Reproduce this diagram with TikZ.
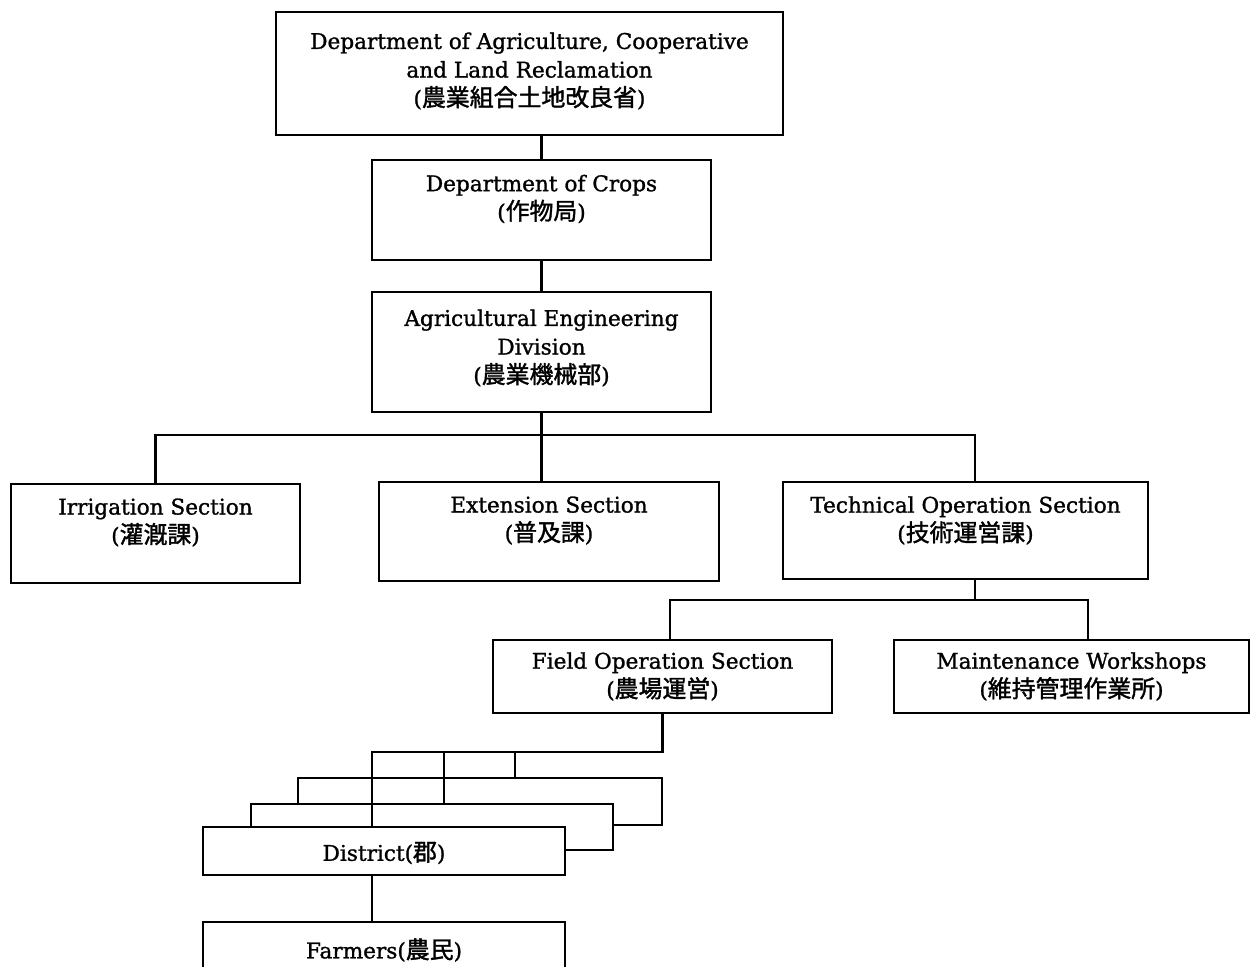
\documentclass[tikz,border=0pt]{standalone}
\usepackage{fontspec}
\setmainfont{DejaVu Serif}[FakeBold=1.2]
\newfontfamily\jpfont{Noto Sans CJK JP}[FakeBold=1.5]
\newcommand{\jp}[1]{{\fontsize{13.6}{16.3}\selectfont\jpfont #1}}
\usetikzlibrary{fit}

\begin{document}
\begin{tikzpicture}[x=0.02cm, y=-0.02cm, line width=1.6pt,
        box/.style={draw, fill=white, inner sep=0pt, fit={#1}},
        lbl/.style={align=center, inner sep=0pt, font=\fontsize{12.3}{16.3}\selectfont}]
        \useasboundingbox (0,0) rectangle (1252,967);
        \clip (0,0) rectangle (1252,967);

        % boxes, top to bottom
        \node[box={(276,12) (783,135)}] (top) {};
        \node[box={(372,160) (711,260)}] (crops) {};
        \node[box={(372,292) (711,412)}] (aed) {};
        \node[box={(11,484) (300,583)}] (irr) {};
        \node[box={(379,482) (719,581)}] (ext) {};
        \node[box={(783,482) (1148,579)}] (tech) {};
        \node[box={(493,640) (832,713)}] (field) {};
        \node[box={(894,640) (1249,713)}] (maint) {};
        \node[box={(298,778) (662,825)}] (back) {};
        \node[box={(251,804) (613,850)}] (mid) {};
        \node[box={(203,827) (565,875)}] (dist) {};
        \node[box={(203,922) (565,990)}] (farm) {};

        % texts
        \node[lbl, yshift=.05cm] (topt) at (top) {Department of Agriculture, Cooperative\\and Land Reclamation\\(\jp{農業組合土地改良省})};
        \node[lbl, yshift=.22cm] (cropst) at (crops) {Department of Crops\\(\jp{作物局})};
        \node[lbl, yshift=.08cm] (aedt) at (aed) {Agricultural Engineering\\Division\\(\jp{農業機械部})};
        \node[lbl, yshift=.22cm] (irrt) at (irr) {Irrigation Section\\(\jp{灌漑課})};
        \node[lbl, yshift=.22cm] (extt) at (ext) {Extension Section\\(\jp{普及課})};
        \node[lbl, yshift=.2cm] (techt) at (tech) {Technical Operation Section\\(\jp{技術運営課})};
        \node[lbl] (fieldt) at (field) {Field Operation Section\\(\jp{農場運営})};
        \node[lbl] (maintt) at (maint) {Maintenance Workshops\\(\jp{維持管理作業所})};
        \node[lbl] (distt) at (384,853) {District(\jp{郡})};
        \node[lbl] (farmt) at (384,950) {Farmers(\jp{農民})};

        % bus points
        \coordinate (b1) at (975,435);
        \coordinate (b2) at (975,600);
        \coordinate (f2) at (670,600);
        \coordinate (m2) at (1088,600);
        \coordinate (c1) at (372,752);
        \coordinate (c2) at (444,752);
        \coordinate (c3) at (515,752);

        % connectors
        \draw (crops.north) -- (crops.north |- top.south);
        \draw (crops.south) -- (aed.north);
        \draw (aed.south) -- (aed.south |- ext.north);
        \draw (irr.north) |- (b1) -- (b1 |- tech.north);
        \draw (b1 |- tech.south) -- (b2);
        \draw (f2 |- field.north) -- (f2) -- (m2) -- (m2 |- maint.north);
        \draw (field.south) |- (c1) -- (c1 |- dist.north);
        \draw (c2) -- (c2 |- mid.north);
        \draw (c3) -- (c3 |- back.north);
        \draw (c1 |- dist.south) -- (c1 |- farm.north);
    \end{tikzpicture}
\end{document}
